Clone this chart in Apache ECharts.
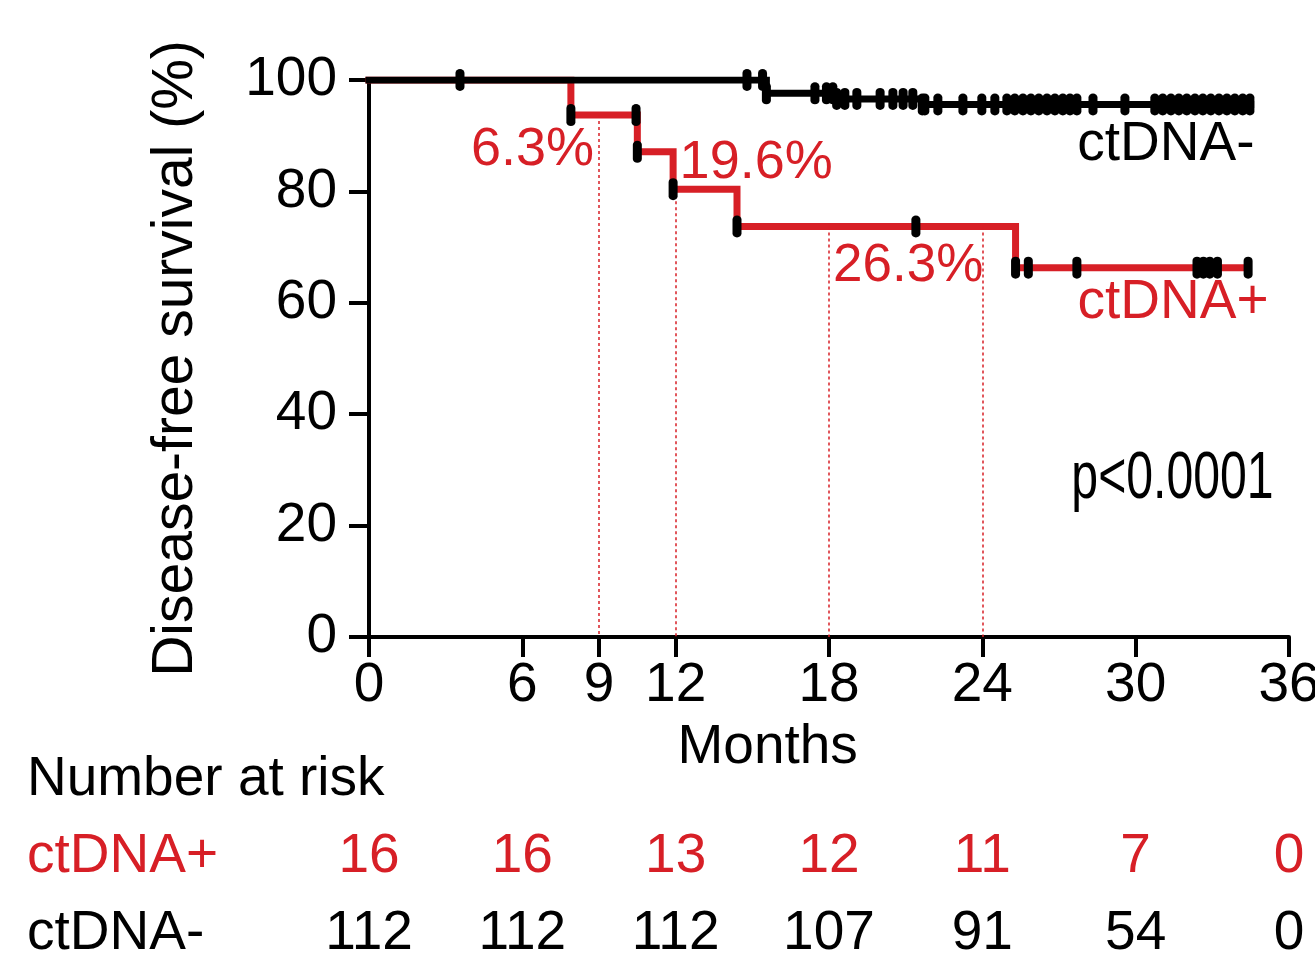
<!DOCTYPE html>
<html><head><meta charset="utf-8">
<script src="https://cdn.jsdelivr.net/npm/echarts@6/dist/echarts.min.js"></script>
<style>html,body{margin:0;padding:0;background:#fff}#c{width:1315px;height:977px}</style>
</head><body><div id="c"></div>
<script>
// ---- data ----
const xTicks = [0, 6, 9, 12, 18, 24, 30, 36];
const yTicks = [0, 20, 40, 60, 80, 100];
const redEventTimes = [0, 7.9, 10.5, 11.9, 14.4, 25.3, 34.4];
const redSurv = [100, 93.7, 87.1, 80.4, 73.7, 66.3, 66.3];
const redCensor = [7.9, 10.45, 10.5, 11.9, 14.4, 21.4, 25.3, 25.8, 27.7, 32.4, 32.65, 32.9, 33.2, 34.4];
const blackEventTimes = [0, 15.55, 18.3, 21.65, 34.5];
const blackSurv = [100, 97.6, 96.6, 95.6, 95.6];
const blackCensor = [3.56, 14.79, 15.4, 15.55, 17.45, 17.9, 18.15, 18.3, 18.62, 19.09, 20.0, 20.5, 20.9, 21.28,
  21.65, 21.75, 22.26, 23.24, 23.98, 24.49, 24.96, 25.27, 25.59, 25.9, 26.21, 26.53, 26.84, 27.15, 27.43, 27.7,
  28.33, 29.58, 30.75, 31.06, 31.38, 31.69, 32.0, 32.32, 32.63, 32.94, 33.26, 33.57, 33.88, 34.19, 34.47];
const landmarkTimes = [9, 12, 18, 24];
const landmarkLabels = ['6.3%', '19.6%', '26.3%'];
const riskTimes = [0, 6, 12, 18, 24, 30, 36];
const riskPos = [16, 16, 13, 12, 11, 7, 0];
const riskNeg = [112, 112, 112, 107, 91, 54, 0];
const groupNames = ['ctDNA+', 'ctDNA-'];
const pText = 'p<0.0001';

// ---- helpers ----
const RED = '#d71f26';
const FONT = "'Liberation Sans', Arial, Helvetica, sans-serif";
const PILL = 'path://M0,0.5A0.5,0.5 0 0 1 1,0.5L1,2.3A0.5,0.5 0 0 1 0,2.3Z';
function survAt(times, surv, t) {
  let v = surv[0];
  for (let i = 0; i < times.length; i++) if (times[i] <= t) v = surv[i];
  return v;
}
const redLine = redEventTimes.map((t, i) => [t, redSurv[i]]);
const blackLine = blackEventTimes.map((t, i) => [t, blackSurv[i]]);
const redCens = redCensor.map(t => [t, survAt(redEventTimes, redSurv, t)]);
const blackCens = blackCensor.map(t => [t, survAt(blackEventTimes, blackSurv, t)]);
const landmarkLines = landmarkTimes.map(t => [{coord: [t, survAt(redEventTimes, redSurv, t)]}, {coord: [t, 0]}]);

const chart = echarts.init(document.getElementById('c'), null, {renderer: 'canvas'});
chart.setOption({
  animation: false,
  backgroundColor: '#fff',
  textStyle: {fontFamily: FONT},
  grid: {left: 369, right: 26, top: 80, bottom: 340, containLabel: false, outerBoundsMode: 'none'},
  xAxis: {
    type: 'value', min: 0, max: 36,
    axisLine: {show: true, onZero: false, lineStyle: {color: '#000', width: 4}},
    axisTick: {show: true, length: 20, lineStyle: {color: '#000', width: 4}, customValues: xTicks},
    axisLabel: {color: '#000', fontSize: 55, margin: 21, fontFamily: FONT, customValues: xTicks, hideOverlap: false},
    splitLine: {show: false}
  },
  yAxis: {
    type: 'value', min: 0, max: 100, interval: 20,
    name: 'Disease-free survival (%)', nameLocation: 'middle', nameGap: 164,
    nameTextStyle: {color: '#000', fontSize: 57, fontFamily: FONT},
    axisLine: {show: true, lineStyle: {color: '#000', width: 4}},
    axisTick: {show: true, length: 20, lineStyle: {color: '#000', width: 4}},
    axisLabel: {color: '#000', fontSize: 55, margin: 32, fontFamily: FONT},
    splitLine: {show: false}
  },
  series: [
    {
      name: groupNames[0], type: 'line', step: 'end', data: redLine, showSymbol: false, z: 2,
      lineStyle: {color: RED, width: 7, cap: 'square', join: 'miter'},
      markLine: {
        silent: true, symbol: ['none', 'none'], label: {show: false},
        lineStyle: {color: RED, width: 1.5, type: [3, 3]},
        data: landmarkLines
      }
    },
    {
      name: groupNames[1], type: 'line', step: 'end', data: blackLine, showSymbol: false, z: 3,
      lineStyle: {color: '#000', width: 7, cap: 'square', join: 'miter'}
    },
    {
      type: 'scatter', data: redCens, symbol: PILL, symbolSize: [9, 22], z: 5,
      itemStyle: {color: '#000', opacity: 1}
    },
    {
      type: 'scatter', data: blackCens, symbol: PILL, symbolSize: [9, 22], z: 5,
      itemStyle: {color: '#000', opacity: 1}
    }
  ]
});

function px(x, y) { return chart.convertToPixel({gridIndex: 0}, [x, y]); }
const g = [];
function txt(p, s, color, align, size) {
  g.push({
    type: 'text', x: p[0], y: p[1], z: 10,
    style: {text: s, fill: color, font: (size || 55) + 'px ' + FONT, align: align, verticalAlign: 'middle'}
  });
}
// in-plot annotations
txt(px(6.4, 87.4), landmarkLabels[0], RED, 'center', 54);
txt(px(15.15, 85.1), landmarkLabels[1], RED, 'center', 54);
txt(px(21.1, 66.6), landmarkLabels[2], RED, 'center', 53);
txt(px(34.65, 88.3), groupNames[1], '#000', 'right');
txt(px(35.2, 60.0), groupNames[0], RED, 'right');
const pp = px(35.4, 28.2);
g.push({type: 'text', x: pp[0], y: pp[1], scaleX: 0.73, z: 10,
  style: {text: pText, fill: '#000', font: '66px ' + FONT, align: 'right', verticalAlign: 'middle'}});
// axis title
const origin = px(0, 0);
txt([px(15.6, 0)[0], origin[1] + 111], 'Months', '#000', 'center');
// risk table
txt([27, origin[1] + 143], 'Number at risk', '#000', 'left');
txt([27, origin[1] + 220], groupNames[0], RED, 'left');
txt([27, origin[1] + 297], groupNames[1], '#000', 'left');
riskTimes.forEach((t, i) => {
  const x = px(t, 0)[0];
  txt([x, origin[1] + 220], String(riskPos[i]), RED, 'center');
  txt([x, origin[1] + 297], String(riskNeg[i]), '#000', 'center');
});
chart.setOption({graphic: g});
</script>
</body></html>
